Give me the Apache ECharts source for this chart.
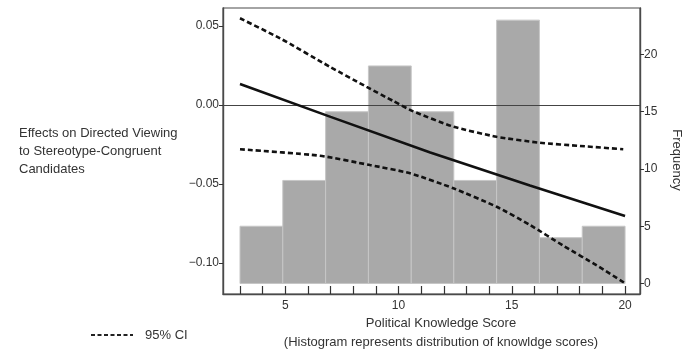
<!DOCTYPE html>
<html><head><meta charset="utf-8">
<script src="https://cdn.jsdelivr.net/npm/echarts@6/dist/echarts.min.js"></script>
<style>html,body{margin:0;padding:0;background:#fff}#c{width:687px;height:350px}</style>
</head><body><div id="c"></div>
<script>
// Histogram of knowledge scores
var binEdges = [3, 4.89, 6.78, 8.67, 10.56, 12.44, 14.33, 16.22, 18.11, 20];
var binCounts = [5, 9, 15, 19, 15, 9, 23, 4, 5];
// Marginal effect (solid) and 95% CI (dashed)
var fitX = [3, 7, 11.4, 15.8, 20];
var fitY = [0.0133, -0.0075, -0.0300, -0.0510, -0.0703];
var upperX = [3, 4.77, 6.97, 8.59, 9.77, 10.65, 12.42, 14.33, 16.25, 18.01, 19.92];
var upperY = [0.0549, 0.0422, 0.0242, 0.0115, 0.0025, -0.0040, -0.0137, -0.0201, -0.0239, -0.0259, -0.0280];
var lowerX = [3, 6.53, 8.74, 10.51, 12.42, 14.33, 15.8, 17.27, 18.75, 20];
var lowerY = [-0.0280, -0.0321, -0.0380, -0.0432, -0.0527, -0.0644, -0.0759, -0.0890, -0.1015, -0.1128];
var xTicks = [3,4,5,6,7,8,9,10,11,12,13,14,15,16,17,18,19,20];
var xLabels = [5, 10, 15, 20];
var leftTicks = [-0.10, -0.05, 0, 0.05];
var rightTicks = [0, 5, 10, 15, 20];

function zip(a, b) { return a.map(function (v, i) { return [v, b[i]]; }); }
var histData = binCounts.map(function (c, i) { return [binEdges[i], binEdges[i + 1], c]; });

var FONT = 'Liberation Sans, Arial, sans-serif';
var chart = echarts.init(document.getElementById('c'), null, {renderer: 'canvas'});
chart.setOption({
  animation: false,
  backgroundColor: '#fff',
  textStyle: {fontFamily: FONT},
  grid: {left: 223, right: 47, top: 8, bottom: 56, show: true, borderColor: '#4a4a4a', borderWidth: 1.2, backgroundColor: 'transparent'},
  xAxis: {
    type: 'value', min: 2.25, max: 20.66,
    axisLine: {show: true, onZero: false, lineStyle: {color: '#4a4a4a', width: 1.4}},
    axisTick: {show: true, inside: true, length: 8, customValues: xTicks, lineStyle: {color: '#333', width: 1.2}},
    axisLabel: {customValues: xLabels, fontSize: 12, color: '#333', margin: 6, fontFamily: FONT},
    splitLine: {show: false}
  },
  yAxis: [{
    type: 'value', min: -0.1196, max: 0.0614,
    axisLine: {show: true, lineStyle: {color: '#4a4a4a', width: 1.4}},
    axisTick: {show: true, length: 4, customValues: leftTicks, lineStyle: {color: '#333'}},
    axisLabel: {customValues: leftTicks, fontSize: 12, color: '#333', margin: 4, fontFamily: FONT,
      formatter: function (v) { return v < 0 ? '\u2212' + Math.abs(v).toFixed(2) : v.toFixed(2); }},
    splitLine: {show: false}
  }, {
    type: 'value', position: 'right', min: -0.917, max: 24.06,
    axisLine: {show: true, lineStyle: {color: '#4a4a4a', width: 1.4}},
    axisTick: {show: true, length: 4, customValues: rightTicks, lineStyle: {color: '#333'}},
    axisLabel: {customValues: rightTicks, fontSize: 12, color: '#333', margin: 4, fontFamily: FONT},
    splitLine: {show: false}
  }],
  series: [{
    type: 'custom', xAxisIndex: 0, yAxisIndex: 1, z: 1,
    data: histData,
    encode: {x: [0, 1], y: 2},
    renderItem: function (params, api) {
      var p0 = api.coord([api.value(0), api.value(2)]);
      var p1 = api.coord([api.value(1), 0]);
      return {type: 'rect', shape: {x: p0[0], y: p0[1], width: p1[0] - p0[0], height: p1[1] - p0[1]},
        style: {fill: '#a9a9a9', stroke: '#c6c6c6', lineWidth: 1}};
    }
  }, {
    type: 'line', name: 'Effect', yAxisIndex: 0, z: 5, symbol: 'none', data: zip(fitX, fitY),
    lineStyle: {color: '#111', width: 2.6},
    markLine: {silent: true, symbol: 'none', label: {show: false},
      lineStyle: {color: '#444', width: 1.2, type: 'solid'}, data: [{yAxis: 0}]}
  }, {
    type: 'line', name: '95% CI', yAxisIndex: 0, z: 5, symbol: 'none', smooth: 0.2, data: zip(upperX, upperY),
    lineStyle: {color: '#111', width: 2.6, type: [5, 3]}
  }, {
    type: 'line', name: '95% CI lower', yAxisIndex: 0, z: 5, symbol: 'none', smooth: 0.2, data: zip(lowerX, lowerY),
    lineStyle: {color: '#111', width: 2.6, type: [5, 3]}
  }],
  graphic: [
    {type: 'text', left: 19, top: 124, style: {text: 'Effects on Directed Viewing\nto Stereotype-Congruent\nCandidates', font: '13px ' + FONT, fill: '#333', lineHeight: 18}},
    {type: 'text', x: 677, y: 160, rotation: -Math.PI / 2, style: {text: 'Frequency', font: '13px ' + FONT, fill: '#333', align: 'center', verticalAlign: 'middle'}},
    {type: 'text', x: 441, y: 323, style: {text: 'Political Knowledge Score', font: '13px ' + FONT, fill: '#333', align: 'center', verticalAlign: 'middle'}},
    {type: 'text', x: 441, y: 342, style: {text: '(Histogram represents distribution of knowldge scores)', font: '13px ' + FONT, fill: '#333', align: 'center', verticalAlign: 'middle'}},
    {type: 'line', shape: {x1: 91, y1: 335, x2: 133, y2: 335}, style: {stroke: '#222', lineWidth: 2.2, lineDash: [4, 2.5]}},
    {type: 'text', x: 145, y: 335, style: {text: '95% CI', font: '13px ' + FONT, fill: '#333', verticalAlign: 'middle'}}
  ]
});
</script></body></html>
